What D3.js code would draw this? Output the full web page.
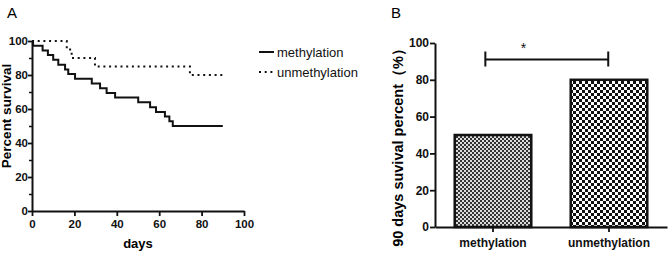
<!DOCTYPE html>
<html>
<head>
<meta charset="utf-8">
<script src="https://cdn.jsdelivr.net/npm/d3@7"></script>
<style>
  body { margin: 0; background: #fff; }
  svg { font-family: "Liberation Sans", Arial, sans-serif; }
</style>
</head>
<body>
<div id="chart"></div>
<script>
// panel A: survival curves (days, percent)
var methDays = [0, 0.5, 5, 7.5, 10, 12.4, 15.6, 17.1, 20.3, 28.2, 32.1, 35.2, 39.2, 50.1, 55.7, 58.5, 62.7, 64.8, 66.4, 90];
var methSurv = [100, 97.2, 94.4, 91.7, 88.9, 86.1, 83.3, 80.6, 77.8, 75, 72.2, 69.4, 66.7, 63.9, 61.1, 58.3, 55.6, 52.8, 50, 50];
var unmethDays = [0, 16.4, 18.7, 29.7, 74.5, 90];
var unmethSurv = [100, 95, 90, 85, 80, 80];
var seriesNames = ["methylation", "unmethylation"];
var ticksA = [0, 20, 40, 60, 80, 100];

// panel B: 90 day survival
var groups = ["methylation", "unmethylation"];
var percent = [50, 80];
var sigLevel = 91;
var ticksB = [0, 20, 40, 60, 80, 100];

var ink = "#111";

var svg = d3.select("#chart").append("svg")
    .attr("width", 669)
    .attr("height", 253);

// patterns for bars
var defs = svg.append("defs");
var p1 = defs.append("pattern").attr("id", "fine")
    .attr("patternUnits", "userSpaceOnUse").attr("width", 4).attr("height", 4);
p1.append("rect").attr("width", 4).attr("height", 4).attr("fill", "#dcdcdc");
p1.append("rect").attr("width", 2).attr("height", 2).attr("fill", "#333");
p1.append("rect").attr("x", 2).attr("y", 2).attr("width", 2).attr("height", 2).attr("fill", "#333");

var p2 = defs.append("pattern").attr("id", "coarse")
    .attr("patternUnits", "userSpaceOnUse").attr("width", 6).attr("height", 6);
p2.append("rect").attr("width", 6).attr("height", 6).attr("fill", "#fff");
p2.append("rect").attr("width", 3).attr("height", 3).attr("fill", "#111");
p2.append("rect").attr("x", 3).attr("y", 3).attr("width", 3).attr("height", 3).attr("fill", "#111");

// ---------- panel A ----------
var xA = d3.scaleLinear().domain([0, 100]).range([32, 244]);
var yA = d3.scaleLinear().domain([0, 100]).range([211, 41]);

svg.append("text").attr("x", 7).attr("y", 18)
    .attr("font-size", "15px").text("A");

var gA = svg.append("g");

// minor y ticks
gA.append("g")
    .attr("transform", "translate(32,0)")
    .call(d3.axisLeft(yA).tickValues([10, 30, 50, 70, 90]).tickSize(3).tickFormat(""))
    .call(function(g) { g.select(".domain").remove(); })
    .selectAll("line").attr("stroke", ink).attr("stroke-width", 1.5);

var yAxisA = gA.append("g")
    .attr("transform", "translate(32,0)")
    .call(d3.axisLeft(yA).tickValues(ticksA).tickSize(4).tickSizeOuter(0).tickPadding(0));

var xAxisA = gA.append("g")
    .attr("transform", "translate(0,211)")
    .call(d3.axisBottom(xA).tickValues(ticksA).tickSize(5).tickSizeOuter(0).tickPadding(4));

[yAxisA, xAxisA].forEach(function(ax) {
    ax.select(".domain").attr("stroke", ink).attr("stroke-width", 2);
    ax.selectAll(".tick line").attr("stroke", ink).attr("stroke-width", 1.8);
    ax.selectAll(".tick text").attr("fill", ink)
        .attr("font-family", "Liberation Sans, Arial, sans-serif")
        .attr("font-size", "11.5px").attr("font-weight", "bold");
});

svg.append("text")
    .attr("transform", "translate(11,116) rotate(-90)")
    .attr("text-anchor", "middle")
    .attr("font-size", "13.5px").attr("font-weight", "bold")
    .text("Percent survival");

svg.append("text")
    .attr("x", 138).attr("y", 248)
    .attr("text-anchor", "middle")
    .attr("font-size", "13px").attr("font-weight", "bold")
    .text("days");

var stepLine = d3.line()
    .x(function(d) { return xA(d[0]); })
    .y(function(d) { return yA(d[1]); })
    .curve(d3.curveStepAfter);

var methPts = d3.zip(methDays, methSurv);
var unmethPts = d3.zip(unmethDays, unmethSurv);

gA.append("path")
    .datum(unmethPts)
    .attr("fill", "none")
    .attr("stroke", ink)
    .attr("stroke-width", 2)
    .attr("stroke-dasharray", "2,3.7")
    .attr("d", stepLine);

gA.append("path")
    .datum(methPts)
    .attr("fill", "none")
    .attr("stroke", ink)
    .attr("stroke-width", 2)
    .attr("d", stepLine);

// legend
var legend = svg.append("g").attr("transform", "translate(259,52)");
seriesNames.forEach(function(name, i) {
    var row = legend.append("g").attr("transform", "translate(0," + (i * 20) + ")");
    row.append("line")
        .attr("x1", 0).attr("x2", 15).attr("y1", 0).attr("y2", 0)
        .attr("stroke", ink).attr("stroke-width", 2)
        .attr("stroke-dasharray", i === 0 ? null : "2,3.7");
    row.append("text")
        .attr("x", 18).attr("y", 5)
        .attr("font-size", "13px").attr("fill", ink)
        .text(name);
});

// ---------- panel B ----------
var xB = d3.scaleBand().domain(groups).range([435, 667])
    .paddingInner(0.34).paddingOuter(0.17);
var yB = d3.scaleLinear().domain([0, 100]).range([227, 43]);

svg.append("text").attr("x", 391).attr("y", 18)
    .attr("font-size", "15px").text("B");

var gB = svg.append("g");

gB.selectAll(".bar")
    .data(groups)
    .enter().append("rect")
    .attr("class", "bar")
    .attr("x", function(d) { return xB(d); })
    .attr("width", xB.bandwidth())
    .attr("y", function(d, i) { return yB(percent[i]); })
    .attr("height", function(d, i) { return yB(0) - yB(percent[i]); })
    .attr("fill", function(d, i) { return i === 0 ? "url(#fine)" : "url(#coarse)"; })
    .attr("stroke", ink)
    .attr("stroke-width", 2.5);

var yAxisB = gB.append("g")
    .attr("transform", "translate(435,0)")
    .call(d3.axisLeft(yB).tickValues(ticksB).tickSize(5).tickSizeOuter(0).tickPadding(1));

var xAxisB = gB.append("g")
    .attr("transform", "translate(0,227)")
    .call(d3.axisBottom(xB).tickSize(5).tickSizeOuter(0).tickPadding(6));

[yAxisB, xAxisB].forEach(function(ax) {
    ax.select(".domain").attr("stroke", ink).attr("stroke-width", 2);
    ax.selectAll(".tick line").attr("stroke", ink).attr("stroke-width", 1.8);
    ax.selectAll(".tick text").attr("fill", ink)
        .attr("font-family", "Liberation Sans, Arial, sans-serif")
        .attr("font-size", "12px").attr("font-weight", "bold");
});

svg.append("text")
    .attr("transform", "translate(403,144) rotate(-90)")
    .attr("text-anchor", "middle")
    .attr("font-size", "14.5px").attr("font-weight", "bold")
    .text("90 days suvival percent（%）");

// significance bracket
var cx1 = xB(groups[0]) + xB.bandwidth() * 0.4;
var cx2 = xB(groups[1]) + xB.bandwidth() * 0.49;
var ySig = yB(sigLevel);
gB.append("path")
    .attr("fill", "none").attr("stroke", ink).attr("stroke-width", 2)
    .attr("d", "M" + cx1 + "," + (ySig - 8) + "V" + (ySig + 7) +
               "M" + cx1 + "," + ySig + "H" + cx2 +
               "M" + cx2 + "," + (ySig - 8) + "V" + (ySig + 7));
gB.append("text")
    .attr("x", cx1 + (cx2 - cx1) * 0.31).attr("y", ySig - 7)
    .attr("text-anchor", "middle")
    .attr("font-size", "14px").attr("fill", ink)
    .text("*");
</script>
</body>
</html>
